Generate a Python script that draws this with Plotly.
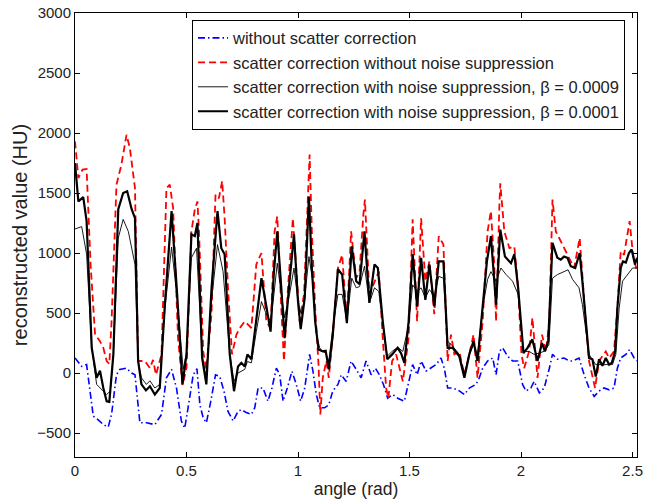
import plotly.graph_objects as go

# (angle in rad, reconstructed value in HU)
no_correction = [
    (0, 125), (0.03, 55), (0.052, 70), (0.067, -125), (0.082, -360), (0.104, -390),
    (0.127, -430), (0.149, -450), (0.164, -345), (0.186, -15), (0.201, 30), (0.231, 40),
    (0.254, 0), (0.269, -15), (0.291, -415), (0.321, -415), (0.358, -430), (0.388, -345),
    (0.410, -40), (0.433, 30), (0.455, -125), (0.477, -400), (0.492, -460), (0.507, -290),
    (0.530, -15), (0.547, 35), (0.560, -265), (0.575, -375), (0.589, -415), (0.609, -235),
    (0.630, -15), (0.649, -30), (0.668, -150), (0.686, -320), (0.709, -400), (0.731, -320),
    (0.746, -305), (0.768, -330), (0.791, -345), (0.806, -290), (0.821, -125), (0.843, -125),
    (0.865, -235), (0.883, -125), (0.903, 40), (0.918, -15), (0.933, -235), (0.952, -125),
    (0.973, 15), (0.992, -95), (1.012, -235), (1.030, -125), (1.052, 155), (1.067, 15),
    (1.082, -180), (1.097, -290), (1.119, -290), (1.138, -265), (1.156, -150), (1.179, -95),
    (1.194, -15), (1.216, -70), (1.238, 100), (1.261, 30), (1.283, -40), (1.305, 100),
    (1.328, -15), (1.347, 40), (1.365, -15), (1.383, -95), (1.402, -210), (1.425, -180),
    (1.447, -210), (1.477, -235), (1.496, -70), (1.514, 70), (1.534, -15), (1.552, 100),
    (1.574, 15), (1.596, 40), (1.619, 70), (1.641, 125), (1.656, 40), (1.671, -125),
    (1.693, -125), (1.716, -140), (1.746, -180), (1.768, -125), (1.798, -95), (1.813, -40),
    (1.828, 40), (1.850, 100), (1.873, 125), (1.888, -15), (1.903, 180), (1.917, 210),
    (1.940, 140), (1.962, 100), (1.985, 100), (2.007, -95), (2.022, -150), (2.044, -125),
    (2.059, -70), (2.082, -165), (2.104, -125), (2.127, 40), (2.141, 155), (2.163, 115),
    (2.193, 125), (2.216, 100), (2.231, 100), (2.260, 125), (2.283, -15), (2.305, -125),
    (2.328, -195), (2.350, -150), (2.372, -125), (2.395, -140), (2.417, -125), (2.432, 40),
    (2.447, 125), (2.470, 155), (2.487, 195), (2.507, 125), (2.52, 100),
]

no_suppression = [
    (0, 1930), (0.015, 1625), (0.034, 1695), (0.052, 1700), (0.070, 900), (0.090, 320),
    (0.112, 265), (0.127, 210), (0.142, 100), (0.154, 75), (0.164, 430), (0.186, 1570),
    (0.208, 1735), (0.231, 1985), (0.246, 1875), (0.269, 1540), (0.283, 100), (0.313, 100),
    (0.336, 40), (0.350, 110), (0.363, -15), (0.388, 155), (0.410, 1540), (0.425, 1570),
    (0.440, 1375), (0.462, 290), (0.482, -100), (0.500, 40), (0.522, 1180), (0.537, 1360),
    (0.549, 1430), (0.556, 1180), (0.575, 180), (0.588, 30), (0.600, 250), (0.612, 490),
    (0.630, 1485), (0.645, 1455), (0.660, 1600), (0.671, 1290), (0.686, 710), (0.704, 155),
    (0.724, 320), (0.739, 375), (0.761, 430), (0.776, 400), (0.791, 375), (0.813, 905),
    (0.836, 1000), (0.858, 430), (0.877, 375), (0.895, 1180), (0.907, 1305), (0.925, 540),
    (0.937, 100), (0.955, 710), (0.977, 1290), (0.992, 875), (1.007, 430), (1.027, 655),
    (1.045, 1540), (1.052, 1820), (1.062, 1180), (1.077, 540), (1.092, 70), (1.100, -345),
    (1.111, -40), (1.127, 100), (1.138, -40), (1.156, 320), (1.179, 875), (1.198, 985),
    (1.219, 430), (1.238, 1180), (1.261, 790), (1.276, 845), (1.293, 1320), (1.300, 1445),
    (1.320, 655), (1.343, 765), (1.362, 845), (1.380, 290), (1.395, -125), (1.405, -210),
    (1.422, 100), (1.440, 155), (1.470, -70), (1.496, 290), (1.514, 1280), (1.534, 430),
    (1.552, 1290), (1.571, 765), (1.589, 930), (1.611, 490), (1.631, 1140), (1.652, 1070),
    (1.671, 100), (1.686, 320), (1.701, 155), (1.723, 180), (1.746, -15), (1.768, 155),
    (1.787, 320), (1.805, -40), (1.828, 430), (1.850, 1180), (1.865, 1350), (1.880, 905),
    (1.888, 430), (1.903, 1400), (1.907, 1580), (1.925, 1180), (1.948, 1040), (1.970, 1055),
    (1.987, 710), (2.002, 155), (2.014, 40), (2.036, 180), (2.051, 460), (2.074, -40),
    (2.094, 320), (2.112, 180), (2.127, 430), (2.141, 1445), (2.156, 1180), (2.171, 1125),
    (2.193, 1040), (2.216, 960), (2.238, 875), (2.263, 1125), (2.275, 790), (2.290, 430),
    (2.305, 100), (2.320, -15), (2.332, -125), (2.350, 100), (2.380, 180), (2.395, 125),
    (2.417, 180), (2.432, 540), (2.447, 1015), (2.462, 985), (2.477, 1155), (2.487, 1265),
    (2.502, 985), (2.52, 845),
]

beta_0009 = [
    (0, 1200), (0.03, 1220), (0.052, 990), (0.075, 210), (0.097, -95), (0.127, -150),
    (0.142, -180), (0.158, -150), (0.172, 155), (0.194, 1125), (0.216, 1280), (0.239, 1180),
    (0.269, 905), (0.283, 100), (0.298, -40), (0.320, -95), (0.336, -65), (0.358, -125),
    (0.380, -95), (0.403, 535), (0.433, 1050), (0.458, 620), (0.485, 30), (0.500, 170),
    (0.522, 960), (0.545, 1040), (0.570, 150), (0.589, -50), (0.612, 600), (0.639, 1070),
    (0.664, 845), (0.694, 155), (0.713, -70), (0.731, 0), (0.761, 30), (0.773, 95),
    (0.791, 85), (0.813, 345), (0.836, 595), (0.858, 490), (0.877, 430), (0.892, 655),
    (0.907, 915), (0.925, 655), (0.940, 460), (0.962, 655), (0.982, 875), (1.000, 595),
    (1.015, 490), (1.030, 625), (1.049, 970), (1.066, 765), (1.080, 345), (1.097, 210),
    (1.111, 180), (1.124, 165), (1.138, 100), (1.156, 375), (1.179, 655), (1.198, 655),
    (1.219, 430), (1.241, 790), (1.261, 710), (1.276, 720), (1.298, 890), (1.320, 585),
    (1.343, 710), (1.362, 680), (1.380, 400), (1.400, 140), (1.422, 180), (1.447, 215),
    (1.470, 180), (1.496, 400), (1.514, 735), (1.534, 680), (1.552, 710), (1.571, 625),
    (1.589, 695), (1.611, 640), (1.631, 805), (1.652, 790), (1.671, 265), (1.693, 225),
    (1.723, 155), (1.746, -10), (1.768, 155), (1.787, 235), (1.805, 155), (1.828, 540),
    (1.850, 780), (1.865, 845), (1.888, 765), (1.910, 875), (1.933, 820), (1.962, 765),
    (1.987, 655), (2.011, 180), (2.036, 180), (2.058, 155), (2.080, 165), (2.103, 180),
    (2.125, 235), (2.141, 790), (2.163, 820), (2.193, 845), (2.211, 860), (2.231, 780),
    (2.260, 710), (2.275, 570), (2.290, 345), (2.305, 155), (2.335, 70), (2.365, 70),
    (2.410, 70), (2.425, 155), (2.440, 540), (2.455, 765), (2.477, 820), (2.500, 875),
    (2.52, 875),
]

beta_0001 = [
    (0, 1750), (0.015, 1430), (0.037, 1465), (0.052, 1265), (0.075, 210), (0.097, -40),
    (0.112, 20), (0.127, -125), (0.142, -235), (0.154, -240), (0.172, 155), (0.194, 1365),
    (0.216, 1500), (0.234, 1515), (0.254, 1365), (0.269, 1290), (0.283, 100), (0.298, -95),
    (0.318, -145), (0.336, -110), (0.358, -180), (0.380, -125), (0.403, 570), (0.433, 1350),
    (0.458, 655), (0.482, -95), (0.500, 155), (0.522, 1155), (0.537, 1140), (0.549, 1250),
    (0.570, 125), (0.589, -95), (0.612, 700), (0.639, 1350), (0.656, 1040), (0.671, 990),
    (0.694, 155), (0.713, -152), (0.731, 55), (0.746, 85), (0.761, 55), (0.773, 155),
    (0.791, 115), (0.813, 430), (0.836, 790), (0.858, 555), (0.877, 345), (0.892, 845),
    (0.907, 1180), (0.925, 710), (0.940, 290), (0.962, 765), (0.982, 1155), (1.000, 595),
    (1.012, 365), (1.030, 625), (1.049, 1470), (1.062, 875), (1.077, 430), (1.092, 195),
    (1.111, 180), (1.124, 185), (1.138, 30), (1.156, 320), (1.179, 865), (1.198, 820),
    (1.219, 415), (1.241, 1055), (1.261, 765), (1.276, 740), (1.298, 1180), (1.320, 585),
    (1.343, 905), (1.358, 875), (1.380, 430), (1.400, 115), (1.422, 155), (1.447, 210),
    (1.462, 165), (1.477, 85), (1.496, 430), (1.514, 990), (1.534, 555), (1.552, 960),
    (1.571, 610), (1.589, 905), (1.611, 555), (1.631, 930), (1.652, 930), (1.671, 210),
    (1.693, 210), (1.723, 140), (1.746, -40), (1.768, 155), (1.787, 265), (1.805, 100),
    (1.828, 570), (1.847, 930), (1.865, 1140), (1.888, 570), (1.907, 1195), (1.928, 970),
    (1.955, 915), (1.970, 990), (1.987, 710), (2.011, 165), (2.029, 210), (2.051, 280),
    (2.074, 100), (2.094, 250), (2.107, 180), (2.122, 265), (2.141, 1085), (2.163, 960),
    (2.178, 945), (2.193, 970), (2.208, 960), (2.223, 890), (2.243, 875), (2.263, 1000),
    (2.275, 765), (2.290, 430), (2.305, 125), (2.320, 115), (2.335, -30), (2.350, 115),
    (2.365, 60), (2.380, 125), (2.395, 70), (2.407, 85), (2.422, 180), (2.432, 540),
    (2.447, 875), (2.457, 930), (2.470, 920), (2.484, 1000), (2.496, 1030), (2.511, 905),
    (2.52, 960),
]

series = [
    ("without scatter correction", no_correction, dict(color="#0000ff", width=1.6, dash="7px,3px,1.5px,3px")),
    ("scatter correction without noise suppression", no_suppression, dict(color="#ff0000", width=1.8, dash="7px,4px")),
    ("scatter correction with noise suppression, β = 0.0009", beta_0009, dict(color="black", width=0.9)),
    ("scatter correction with noise suppression, β = 0.0001", beta_0001, dict(color="black", width=2.2)),
]

fig = go.Figure()
for name, pts, line in series:
    x, y = zip(*pts)
    fig.add_trace(go.Scatter(x=x, y=y, mode="lines", name=name, line=line))

axis_style = dict(showline=True, linecolor="black", linewidth=1, mirror="ticks",
                  ticks="inside", ticklen=5, tickcolor="black", showgrid=False,
                  zeroline=False, automargin=False, ticklabeloverflow="allow",
                  tickfont=dict(size=15, color="#222"))
fig.update_xaxes(range=[0, 2.52], tickvals=[0, 0.5, 1, 1.5, 2, 2.5],
                 title=dict(text="angle (rad)", font=dict(size=17.5, color="#222"), standoff=4),
                 **axis_style)
fig.update_yaxes(range=[-700, 3000], tickvals=[-500, 0, 500, 1000, 1500, 2000, 2500, 3000],
                 title=dict(text="reconstructed value (HU)", font=dict(size=20, color="#222"), standoff=4),
                 **axis_style)
fig.update_layout(
    width=645, height=502,
    margin=dict(l=75, r=8, t=13, b=45),
    plot_bgcolor="white", paper_bgcolor="white",
    font=dict(family="Liberation Sans, Arial, sans-serif", size=15, color="#222"),
    legend=dict(x=0.9786, y=0.985, xanchor="right", yanchor="top",
                bgcolor="white", bordercolor="black", borderwidth=1,
                font=dict(size=16.5, color="#222"), tracegroupgap=0),
    showlegend=True,
)
# drop the default body margin so the figure fills the window
fig.write_html("out.html", config={"displayModeBar": False},
               post_script="document.body.style.margin='0';")
